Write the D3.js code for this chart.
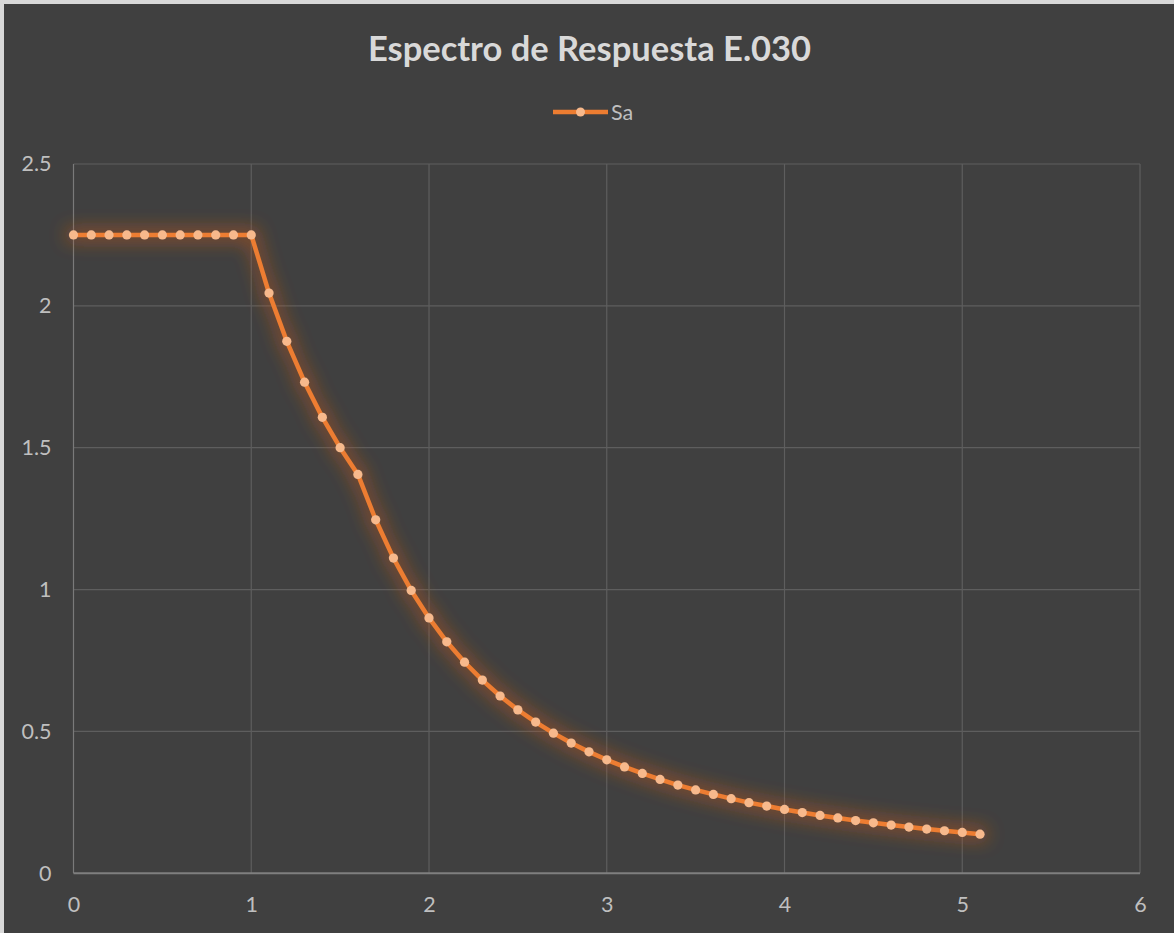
<!DOCTYPE html>
<html>
<head>
<meta charset="utf-8">
<script src="https://cdn.jsdelivr.net/npm/d3@7"></script>
<style>
  html, body { margin: 0; padding: 0; background: #d9d9d9; }
  svg { display: block; }
</style>
</head>
<body>
<svg id="chart" width="1174" height="933"></svg>
<script>
// Periodo T (s)
const periods = [
  0.0, 0.1, 0.2, 0.3, 0.4, 0.5, 0.6, 0.7, 0.8, 0.9,
  1.0, 1.1, 1.2, 1.3, 1.4, 1.5, 1.6, 1.7, 1.8, 1.9,
  2.0, 2.1, 2.2, 2.3, 2.4, 2.5, 2.6, 2.7, 2.8, 2.9,
  3.0, 3.1, 3.2, 3.3, 3.4, 3.5, 3.6, 3.7, 3.8, 3.9,
  4.0, 4.1, 4.2, 4.3, 4.4, 4.5, 4.6, 4.7, 4.8, 4.9,
  5.0, 5.1
];
// Pseudo-aceleración Sa
const saValues = [
  2.25, 2.25, 2.25, 2.25, 2.25, 2.25, 2.25, 2.25, 2.25, 2.25,
  2.25, 2.045, 1.875, 1.731, 1.607, 1.5, 1.406, 1.246, 1.111, 0.997,
  0.9, 0.816, 0.744, 0.681, 0.625, 0.576, 0.533, 0.494, 0.459, 0.428,
  0.4, 0.375, 0.352, 0.331, 0.311, 0.294, 0.278, 0.263, 0.249, 0.237,
  0.225, 0.214, 0.204, 0.195, 0.186, 0.178, 0.170, 0.163, 0.156, 0.150,
  0.144, 0.138
];
const xTicks = [0, 1, 2, 3, 4, 5, 6];
const yTicks = [0, 0.5, 1, 1.5, 2, 2.5];
const seriesName = "Sa";
const titleText = "Espectro de Respuesta E.030";

const svg = d3.select("#chart");
const W = 1174, H = 933;
const plot = { left: 73.5, right: 1140, top: 164, bottom: 873.3 };

// chart area background
svg.append("rect").attr("x", 4).attr("y", 4).attr("width", W - 4).attr("height", H - 4)
  .attr("fill", "#404040");

const x = d3.scaleLinear().domain([0, 6]).range([plot.left, plot.right]);
const y = d3.scaleLinear().domain([0, 2.5]).range([plot.bottom, plot.top]);

// soft orange glow around the series
const defs = svg.append("defs");
const glow = defs.append("filter").attr("id", "glow")
  .attr("x", "-10%").attr("y", "-10%").attr("width", "120%").attr("height", "120%");
glow.append("feMorphology").attr("in", "SourceAlpha").attr("operator", "dilate").attr("radius", 2).attr("result", "fat");
glow.append("feGaussianBlur").attr("in", "fat").attr("stdDeviation", 9).attr("result", "blur");
glow.append("feFlood").attr("flood-color", "#b8561c").attr("flood-opacity", 0.75);
glow.append("feComposite").attr("in2", "blur").attr("operator", "in").attr("result", "glowColor");
const merge = glow.append("feMerge");
merge.append("feMergeNode").attr("in", "glowColor");
merge.append("feMergeNode").attr("in", "SourceGraphic");

// gridlines
const grid = svg.append("g");
grid.selectAll("line.h").data(yTicks.filter(d => d > 0)).join("line")
  .attr("x1", plot.left).attr("x2", plot.right)
  .attr("y1", d => y(d)).attr("y2", d => y(d))
  .attr("stroke", "#5e5e5e").attr("stroke-width", 1.2);
grid.selectAll("line.v").data(xTicks).join("line")
  .attr("x1", d => x(d)).attr("x2", d => x(d))
  .attr("y1", plot.top).attr("y2", plot.bottom)
  .attr("stroke", d => d === 0 ? "#7a7a7a" : "#5e5e5e").attr("stroke-width", 1.2);

// x axis line
svg.append("line")
  .attr("x1", plot.left).attr("x2", plot.right)
  .attr("y1", plot.bottom).attr("y2", plot.bottom)
  .attr("stroke", "#7f7f7f").attr("stroke-width", 2);

// axes (labels only)
const fontFam = "Lato, 'Open Sans', sans-serif";
const xAxis = svg.append("g").attr("transform", `translate(0,${plot.bottom})`)
  .call(d3.axisBottom(x).tickValues(xTicks).tickFormat(d3.format("d")).tickSize(0).tickPadding(23));
const yAxis = svg.append("g").attr("transform", `translate(${plot.left},0)`)
  .call(d3.axisLeft(y).tickValues(yTicks).tickFormat(d => String(d)).tickSize(0).tickPadding(22));
[xAxis, yAxis].forEach(a => {
  a.select(".domain").remove();
  a.selectAll("text").attr("fill", "#bfbfbf").style("font-family", fontFam).style("font-size", "21.5px");
});

// series
const lineGen = d3.line().x((d, i) => x(periods[i])).y(d => y(d));
const series = svg.append("g").attr("filter", "url(#glow)");
series.append("path").datum(saValues)
  .attr("d", lineGen).attr("fill", "none")
  .attr("stroke", "#ed7d31").attr("stroke-width", 4.5).attr("stroke-linejoin", "round");
series.selectAll("circle").data(saValues).join("circle")
  .attr("cx", (d, i) => x(periods[i])).attr("cy", d => y(d)).attr("r", 4.6)
  .attr("fill", "#f7b98c");

// title
svg.append("text").attr("x", 589.5).attr("y", 61).attr("text-anchor", "middle")
  .attr("fill", "#d9d9d9").style("font-family", fontFam).style("font-weight", "bold")
  .style("font-size", "34.5px").text(titleText);

// legend
const lg = svg.append("g");
lg.append("line").attr("x1", 553).attr("x2", 608).attr("y1", 112).attr("y2", 112)
  .attr("stroke", "#ed7d31").attr("stroke-width", 4.5);
lg.append("circle").attr("cx", 580.5).attr("cy", 112).attr("r", 4.5).attr("fill", "#f7b98c");
lg.append("text").attr("x", 611).attr("y", 119.5).attr("fill", "#bfbfbf")
  .style("font-family", fontFam).style("font-size", "21.5px").text(seriesName);
</script>
</body>
</html>
